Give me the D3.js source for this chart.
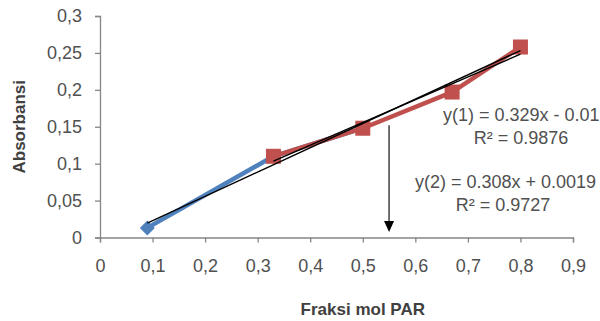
<!DOCTYPE html>
<html>
<head>
<meta charset="utf-8">
<script src="https://cdn.jsdelivr.net/npm/d3@7/dist/d3.min.js"></script>
<style>
  html, body { margin: 0; padding: 0; background: #fff; }
  svg { display: block; font-family: "Liberation Sans", Arial, sans-serif; }
</style>
</head>
<body>
<svg id="chart" width="600" height="321"></svg>
<script>
// Mole-fraction (Job's method) data
const xBlue = [0.09, 0.33, 0.5];
const yBlue = [0.013, 0.11, 0.148];
const xRed = [0.33, 0.5, 0.67, 0.8];
const yRed = [0.11, 0.148, 0.197, 0.258];

// Linear fits as reported
const fit1 = { slope: 0.329, intercept: -0.01, from: 0.09, to: 0.8 };
const fit2 = { slope: 0.308, intercept: 0.0019, from: 0.33, to: 0.8 };
const fitLabels = ["y(1) = 0.329x - 0.01", "R² = 0.9876", "y(2) = 0.308x + 0.0019", "R² = 0.9727"];

// Intersection marker
const arrowX = 0.55;
const arrowTop = 0.152;
const arrowBottom = 0.0075;

const xTicks = [0, 0.1, 0.2, 0.3, 0.4, 0.5, 0.6, 0.7, 0.8, 0.9];
const yTicks = [0, 0.05, 0.1, 0.15, 0.2, 0.25, 0.3];

const svg = d3.select("#chart");
const x = d3.scaleLinear().domain([0, 0.9]).range([100, 573]);
const y = d3.scaleLinear().domain([0, 0.3]).range([237.5, 16]);

const fmt = d => String(d).replace(".", ",");
const axisColor = "#868686";
const textColor = "#505050";

// Axes
const gx = svg.append("g").attr("transform", `translate(0,${y(0)})`)
  .call(d3.axisBottom(x).tickValues(xTicks).tickFormat(fmt).tickSize(5).tickPadding(17));
const gy = svg.append("g").attr("transform", `translate(${x(0)},0)`)
  .call(d3.axisLeft(y).tickValues(yTicks).tickFormat(fmt).tickSize(5).tickPadding(13));
[gx, gy].forEach(g => {
  g.select(".domain").attr("stroke", axisColor).attr("stroke-width", 1.3);
  g.selectAll(".tick line").attr("stroke", axisColor).attr("stroke-width", 1.3);
  g.selectAll(".tick text").attr("fill", textColor).attr("font-size", 18)
    .attr("font-family", "Liberation Sans, Arial, sans-serif");
});

// Axis titles
svg.append("text").attr("x", x(0.5)).attr("y", 315).attr("text-anchor", "middle")
  .attr("font-size", 17).attr("font-weight", "bold").attr("fill", "#404040")
  .text("Fraksi mol PAR");
svg.append("text").attr("transform", `translate(25,${y(0.15)})rotate(-90)`)
  .attr("text-anchor", "middle").attr("font-size", 17).attr("font-weight", "bold")
  .attr("fill", "#404040").text("Absorbansi");

const line = d3.line().x(d => x(d[0])).y(d => y(d[1]));

// Series 1 (blue)
const blue = xBlue.map((v, i) => [v, yBlue[i]]);
svg.append("path").datum(blue).attr("d", line).attr("fill", "none")
  .attr("stroke", "#4F81BD").attr("stroke-width", 4.5).attr("stroke-linejoin", "round");
svg.append("g").selectAll("path").data(blue).join("path")
  .attr("d", "M0,-7.5L7.5,0L0,7.5L-7.5,0Z")
  .attr("transform", d => `translate(${x(d[0])},${y(d[1])})`)
  .attr("fill", "#4F81BD");

// Series 2 (red)
const red = xRed.map((v, i) => [v, yRed[i]]);
svg.append("path").datum(red).attr("d", line).attr("fill", "none")
  .attr("stroke", "#C0504D").attr("stroke-width", 4.5).attr("stroke-linejoin", "round");
svg.append("g").selectAll("rect").data(red).join("rect")
  .attr("x", d => x(d[0]) - 7.5).attr("y", d => y(d[1]) - 7.5)
  .attr("width", 15).attr("height", 15).attr("fill", "#C0504D");

// Trendlines
[fit1, fit2].forEach(f => {
  const pts = [f.from, f.to].map(v => [v, f.slope * v + f.intercept]);
  svg.append("path").datum(pts).attr("d", line).attr("fill", "none")
    .attr("stroke", "#000").attr("stroke-width", 1.4);
});

// Arrow to the x axis
svg.append("line").attr("x1", x(arrowX)).attr("x2", x(arrowX))
  .attr("y1", y(arrowTop)).attr("y2", y(arrowBottom) - 8)
  .attr("stroke", "#404040").attr("stroke-width", 1.5);
svg.append("path")
  .attr("d", `M${x(arrowX) - 5},${y(arrowBottom) - 11}L${x(arrowX) + 5},${y(arrowBottom) - 11}L${x(arrowX)},${y(arrowBottom)}Z`)
  .attr("fill", "#000");

// Fit labels
const labelStyle = s => s.attr("font-size", 18).attr("fill", textColor);
svg.append("text").attr("x", 443).attr("y", 121).call(labelStyle).text(fitLabels[0]);
svg.append("text").attr("x", 521).attr("y", 144).attr("text-anchor", "middle").call(labelStyle).text(fitLabels[1]);
svg.append("text").attr("x", 415).attr("y", 188).call(labelStyle).text(fitLabels[2]);
svg.append("text").attr("x", 503).attr("y", 211).attr("text-anchor", "middle").call(labelStyle).text(fitLabels[3]);
</script>
</body>
</html>
